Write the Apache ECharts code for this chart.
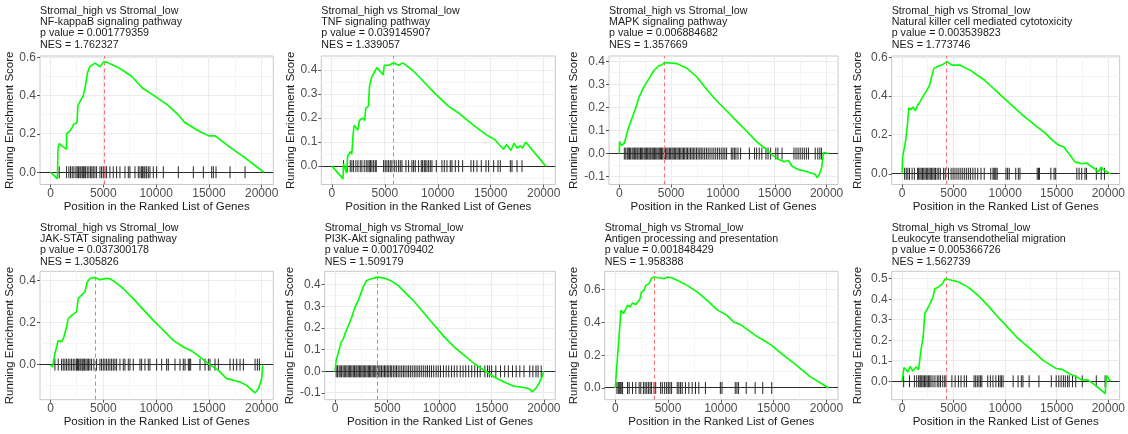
<!DOCTYPE html>
<html>
<head>
<meta charset="utf-8">
<script src="https://cdn.jsdelivr.net/npm/echarts@6/dist/echarts.min.js"></script>
<style>
  html, body { margin: 0; padding: 0; background: #ffffff; }
  #chart { width: 1128px; height: 434px; }
</style>
</head>
<body>
<div id="chart"></div>
<script>
// GSEA running enrichment score plots, Stromal_high vs Stromal_low
const comparison = 'Stromal_high vs Stromal_low';
const pathways = [
  'NF-kappaB signaling pathway',
  'TNF signaling pathway',
  'MAPK signaling pathway',
  'Natural killer cell mediated cytotoxicity',
  'JAK-STAT signaling pathway',
  'PI3K-Akt signaling pathway',
  'Antigen processing and presentation',
  'Leukocyte transendothelial migration'
];
const pValues = ['0.001779359', '0.039145907', '0.006884682', '0.003539823',
                 '0.037300178', '0.001709402', '0.001848429', '0.005366726'];
const nesValues = ['1.762327', '1.339057', '1.357669', '1.773746',
                   '1.305826', '1.509179', '1.958388', '1.562739'];

// rank position of the enrichment-score peak
const peakPositions = [5090, 5830, 4380, 4350, 4270, 4060, 3740, 4300];

const xTickLabels = [0, 5000, 10000, 15000, 20000];
const yTickLabels = [
  [0, 0.2, 0.4, 0.6],
  [0, 0.1, 0.2, 0.3, 0.4],
  [-0.1, 0, 0.1, 0.2, 0.3, 0.4],
  [0, 0.2, 0.4, 0.6],
  [0, 0.2, 0.4],
  [-0.1, 0, 0.1, 0.2, 0.3, 0.4],
  [0, 0.2, 0.4, 0.6],
  [0, 0.1, 0.2, 0.3, 0.4, 0.5]
];

// running enrichment score, [rank position, score]
const es1 = [[0,0],[650,-0.035],[700,0.12],[820,0.15],[1500,0.12],[1520,0.2],[1900,0.22],[2200,0.25],[2500,0.26],[2600,0.35],[2900,0.38],[3100,0.4],[3300,0.45],[3500,0.52],[3700,0.55],[4200,0.57],[4700,0.55],[5000,0.575],[5300,0.575],[6300,0.55],[6900,0.53],[7700,0.5],[8700,0.44],[9800,0.4],[11100,0.35],[12100,0.3],[12700,0.26],[14200,0.21],[15000,0.19],[15600,0.19],[17000,0.13],[18300,0.08],[18450,0.09],[20200,0]];
const es2 = [[0,0],[1050,-0.053],[1100,0.01],[1400,-0.03],[1480,0.04],[1750,0.06],[1880,0.05],[2000,0.13],[2100,0.17],[2450,0.15],[2600,0.19],[2900,0.2],[3100,0.19],[3200,0.24],[3450,0.25],[3550,0.33],[3750,0.37],[4250,0.41],[4850,0.38],[4950,0.42],[5400,0.42],[5800,0.43],[6300,0.42],[6700,0.43],[7600,0.4],[8700,0.35],[9800,0.3],[11000,0.25],[12000,0.22],[13400,0.17],[14600,0.13],[15400,0.11],[16200,0.07],[16500,0.09],[16900,0.065],[17200,0.095],[17500,0.075],[17800,0.085],[18000,0.075],[18300,0.1],[20200,0]];
const es3 = [[0,0],[20,0.052],[220,0.035],[480,0.045],[800,0.1],[950,0.12],[1270,0.16],[1590,0.2],[1900,0.245],[2380,0.29],[2860,0.325],[3330,0.36],[3800,0.38],[4130,0.385],[4380,0.395],[5560,0.39],[6510,0.37],[7460,0.333],[8400,0.28],[9360,0.23],[10320,0.187],[11270,0.143],[12220,0.1],[13170,0.055],[14130,0.019],[15080,-0.018],[15880,-0.035],[16300,-0.03],[16670,-0.055],[17300,-0.07],[17700,-0.073],[18900,-0.09],[19100,-0.105],[19300,-0.09],[19525,-0.06],[19700,0.005],[20200,0]];
const es4 = [[0,0],[60,0.086],[200,0.08],[346,0.17],[504,0.24],[660,0.34],[880,0.33],[1040,0.345],[1290,0.325],[1510,0.353],[1730,0.37],[2050,0.4],[2460,0.435],[2680,0.457],[2870,0.5],[3090,0.543],[3560,0.555],[3870,0.56],[4350,0.578],[4820,0.56],[5600,0.56],[6710,0.53],[7970,0.483],[9230,0.422],[10490,0.36],[11750,0.3],[13010,0.245],[13950,0.207],[14580,0.172],[15210,0.147],[15690,0.138],[16790,0.06],[17420,0.052],[17890,0.055],[18680,0.026],[19000,0.009],[19310,0.034],[19620,0.017],[20200,0]];
const es5 = [[0,0],[190,-0.011],[410,0.052],[570,0.06],[727,0.115],[1040,0.108],[1264,0.131],[1517,0.18],[1675,0.218],[1990,0.234],[2212,0.242],[2465,0.25],[2623,0.313],[2940,0.33],[3255,0.345],[3476,0.392],[3729,0.408],[4203,0.413],[4677,0.403],[5151,0.408],[5625,0.408],[6100,0.392],[6890,0.36],[7837,0.313],[8785,0.261],[9733,0.21],[10681,0.163],[11629,0.115],[12577,0.084],[13367,0.065],[14157,0.036],[14947,0.005],[15895,-0.027],[16685,-0.066],[17317,-0.074],[17950,-0.082],[18580,-0.098],[19370,-0.134],[19687,-0.114],[19850,-0.09],[20000,-0.066],[20100,-0.003]];
const es6 = [[0,0],[95,0.05],[250,0.052],[380,0.097],[570,0.135],[795,0.15],[950,0.174],[1270,0.212],[1590,0.25],[1905,0.297],[2220,0.328],[2700,0.39],[3015,0.42],[3490,0.428],[4130,0.435],[4760,0.43],[5400,0.417],[6030,0.397],[6670,0.366],[7620,0.32],[8570,0.266],[9525,0.212],[10480,0.158],[11430,0.112],[12380,0.074],[13335,0.035],[14290,0.005],[15240,-0.026],[16190,-0.049],[17145,-0.069],[18100,-0.075],[18570,-0.08],[18890,-0.095],[19210,-0.08],[19525,-0.057],[19845,-0.023],[20000,0]];
const es7 = [[0,0],[125,0.112],[280,0.112],[377,0.33],[534,0.474],[785,0.454],[1160,0.505],[1410,0.494],[1630,0.519],[1950,0.51],[2165,0.525],[2355,0.545],[2480,0.586],[2730,0.596],[2890,0.626],[3200,0.637],[3420,0.667],[3675,0.677],[3990,0.673],[4300,0.671],[4615,0.667],[4930,0.677],[5400,0.671],[5870,0.657],[6810,0.626],[7760,0.586],[8700,0.535],[9640,0.478],[10580,0.443],[11210,0.403],[11840,0.388],[12620,0.352],[13410,0.315],[14040,0.291],[14820,0.26],[15920,0.2],[17180,0.138],[18430,0.071],[20200,0]];
const es8 = [[0,0],[100,-0.008],[190,0.067],[570,0.045],[790,0.073],[1040,0.05],[1360,0.07],[1610,0.057],[1830,0.151],[2050,0.216],[2210,0.33],[2400,0.326],[2560,0.362],[2780,0.386],[3000,0.41],[3190,0.451],[3510,0.459],[3890,0.475],[4200,0.5],[4360,0.508],[4830,0.492],[5470,0.484],[6410,0.459],[7360,0.419],[8310,0.37],[9260,0.316],[10200,0.265],[11150,0.213],[12420,0.159],[13680,0.102],[14950,0.062],[15580,0.057],[16210,0.037],[16840,0.024],[17470,0.005],[17950,0.008],[18740,-0.019],[19690,-0.06],[19840,0.029],[20200,0]];

// rank positions of the gene-set members
const hits1 = [822,1517,1738,1896,2054,2212,2402,2528,2654,2781,2876,3002,3097,3192,3318,3476,3634,3792,3918,4045,4203,4361,4677,4835,4993,5151,5309,5625,5941,6257,6573,7047,7363,7521,7995,8311,8469,8627,8722,8848,8943,9101,9259,9417,9733,10049,10681,12103,13525,14473,15263,15421,15674,17001,18423];
const hits2 = [1103,1481,1733,1890,2048,2268,2457,2678,2835,3056,3245,3402,3528,3654,3780,3938,4095,4190,4883,5040,5198,5355,5513,5670,5891,6080,6300,6458,6615,6993,7245,7560,7718,7875,8190,8442,8568,8726,8820,8978,9135,9293,9450,9860,10395,10616,10868,11183,11340,11655,11970,12348,13136,13388,13703,14112,14553,14805,15278,15687,15908,16853,17010,17483,17955];
const hits3 = [480,620,760,860,980,1090,1230,1340,1470,1580,1700,1790,1910,2040,2150,2260,2390,2500,2610,2730,2850,2960,3050,3170,3280,3400,3510,3620,3740,3850,3960,4070,4190,4330,4460,4580,4700,4830,4950,5080,5190,5310,5430,5560,5680,5800,5930,6060,6190,6310,6450,6580,6720,6870,7010,7140,7290,7440,7600,7760,7900,8060,8230,8400,8570,8750,8940,9120,9300,9480,9650,9830,10010,10180,10350,10800,10950,11100,11250,11450,11700,12550,13050,13250,13500,13750,14150,14350,14600,15100,15300,15700,16850,17050,17250,17450,17650,17850,18050,18250,18900,19150,19350,19500];
const hits4 = [252,410,567,725,977,1197,1512,1607,1733,1859,1985,2111,2237,2363,2489,2615,2741,2867,2993,3119,3245,3402,3560,3717,4032,4190,4505,4757,4946,5135,5324,5513,5702,5891,6080,6269,6458,6647,6867,7088,7340,7655,7970,8600,8820,8915,9009,9104,9230,10080,10238,10395,11025,11277,11435,13104,13230,13325,14427,14742,14900,16947,17168,17420,17735,17892,18837,19310,19625];
const hits5 = [411,727,1043,1201,1359,1517,1675,1833,1991,2149,2307,2465,2560,2654,2781,2876,3002,3097,3223,3350,3476,3602,3729,3887,4108,4361,4677,4835,4993,5151,5309,5467,5625,5783,5941,6099,6257,6573,6889,7047,7363,7521,7837,8469,8627,8943,9259,9417,10049,10523,10997,11155,11787,12261,12577,12735,13051,13146,13272,14157,14631,14947,15105,15579,15895,17001,17317,17633,17949,18265,19371,19592,19782];
const hits6 = [100,230,380,490,620,760,880,1010,1130,1260,1390,1490,1610,1740,1860,1990,2090,2210,2340,2450,2570,2690,2800,2930,3060,3180,3290,3410,3540,3660,3790,3900,4040,4180,4300,4440,4590,4730,4860,5000,5140,5290,5420,5580,5740,5880,6040,6210,6380,6540,6700,6880,7040,7210,7390,7580,7750,7930,8110,8300,8490,8690,8860,9050,9240,9450,9680,9880,10100,10380,10640,10890,11160,11420,11680,11990,12260,12520,12800,13090,13380,13640,13900,14350,14600,14780,15000,15400,15850,16250,16600,17000,17350,17700,18100,18650,18950,19250,19450,19750];
const hits7 = [157,283,377,471,565,691,1162,1319,1633,1947,2261,2418,2669,2826,2983,3140,3297,3423,3674,3831,4302,4459,4679,4867,5024,5181,5338,5872,6029,6186,6343,6657,6971,7285,7599,7913,8541,9954,10111,11367,11524,11681,12403,13251,13973,14821];
const hits8 = [158,727,1201,1422,1612,1738,1833,1928,2054,2180,2307,2433,2560,2686,2812,3002,3192,3413,3571,3729,3950,4140,4266,4835,5151,5467,5720,6036,6257,6984,7142,7300,7458,7616,7742,8311,8564,8816,9101,9354,9512,9638,9796,10776,11250,11566,11724,12324,13272,14473,14947,15200,15421,15642,15832,16053,16211,16527,16843,17475,18834,19687];

const runningScores = [es1, es2, es3, es4, es5, es6, es7, es8];
const geneHits = [hits1, hits2, hits3, hits4, hits5, hits6, hits7, hits8];

// ---- layout (pixels) ----
const panelBoxes = [
  [40, 56, 233.3, 128.5], [321.3, 56, 234, 128.5], [609, 56, 229, 128.5], [891.7, 56, 233.3, 128.5],
  [40, 271.3, 233.3, 128.4], [324.7, 271.3, 230.6, 128.4], [604.7, 271.3, 233.3, 128.4], [891.7, 271.3, 232.6, 128.4]
];
const yLimits = [
  [-0.064, 0.607], [-0.0765, 0.4585], [-0.134, 0.423], [-0.0553, 0.6068],
  [-0.166, 0.4427], [-0.131, 0.462], [-0.0714, 0.712], [-0.0897, 0.536]
];
const yNameGaps = [24, 23, 29, 28, 24, 27, 25, 28];
const X_MIN = -1000, X_MAX = 21100;
const FONT = '"Liberation Sans", Arial, Helvetica, sans-serif';

function minorValues(major, lo, hi) {
  const step = major[1] - major[0];
  const out = [];
  for (let v = major[0] - step / 2; v < hi; v += step) {
    if (v > lo) out.push(+v.toFixed(6));
  }
  return out.filter(v => major.every(m => Math.abs(m - v) > 1e-9));
}

const crisp = v => Math.round(v - 0.5) + 0.5;

const option = {
  animation: false,
  backgroundColor: '#ffffff',
  title: [], grid: [], xAxis: [], yAxis: [], series: []
};

pathways.forEach((name, i) => {
  const [left, top, width, height] = panelBoxes[i];
  const [yMin, yMax] = yLimits[i];
  const yMajor = yTickLabels[i];
  const yMinor = minorValues(yMajor, yMin, yMax);
  const xMinor = minorValues(xTickLabels, X_MIN, X_MAX);

  option.title.push({
    text: [comparison, name, 'p value = ' + pValues[i], 'NES = ' + nesValues[i]].join('\n'),
    left: left, top: i < 4 ? 5.4 : 222.4, padding: 0,
    textStyle: { fontFamily: FONT, fontSize: 10.7, lineHeight: 11.2, fontWeight: 'normal', color: '#1a1a1a' }
  });

  option.grid.push({
    left: left, top: top, width: width, height: height,
    show: true, backgroundColor: '#ffffff', borderColor: '#c8c8c8', borderWidth: 1
  });

  option.xAxis.push({
    gridIndex: i, type: 'value', min: X_MIN, max: X_MAX,
    name: 'Position in the Ranked List of Genes', nameLocation: 'middle', nameGap: 15,
    nameTextStyle: { fontFamily: FONT, fontSize: 11.5, color: '#1a1a1a' },
    axisLine: { show: false, onZero: false },
    axisTick: { show: true, customValues: xTickLabels, length: 3, lineStyle: { color: '#555555' } },
    axisLabel: { customValues: xTickLabels, margin: 3, fontFamily: FONT, fontSize: 12, color: '#4d4d4d',
                 formatter: v => String(v) },
    splitLine: { show: false }
  });

  option.yAxis.push({
    gridIndex: i, type: 'value', min: yMin, max: yMax,
    name: 'Running Enrichment Score', nameLocation: 'middle', nameGap: yNameGaps[i],
    nameTextStyle: { fontFamily: FONT, fontSize: 11.5, color: '#1a1a1a' },
    axisLine: { show: false, onZero: false },
    axisTick: { show: true, customValues: yMajor, length: 3, lineStyle: { color: '#555555' } },
    axisLabel: { customValues: yMajor, margin: 4, fontFamily: FONT, fontSize: 12, color: '#4d4d4d',
                 formatter: v => (Math.abs(v) < 1e-9 ? 0 : v).toFixed(1) },
    splitLine: { show: false }
  });

  // panel grid lines
  option.series.push({
    type: 'custom', xAxisIndex: i, yAxisIndex: i, silent: true, z: 1, clip: true,
    data: [[0, 0]],
    renderItem: (params, api) => {
      const children = [];
      const addV = (v, major) => {
        const a = api.coord([v, yMin]), b = api.coord([v, yMax]);
        const x = crisp(a[0]);
        children.push({ type: 'line', shape: { x1: x, y1: a[1], x2: x, y2: b[1] },
          style: { stroke: major ? '#ebebeb' : '#f5f5f5', lineWidth: 1 } });
      };
      const addH = (v, major) => {
        const a = api.coord([X_MIN, v]), b = api.coord([X_MAX, v]);
        const y = crisp(a[1]);
        children.push({ type: 'line', shape: { x1: a[0], y1: y, x2: b[0], y2: y },
          style: { stroke: major ? '#ebebeb' : '#f5f5f5', lineWidth: 1 } });
      };
      xMinor.forEach(v => addV(v, false));
      yMinor.forEach(v => addH(v, false));
      xTickLabels.forEach(v => addV(v, true));
      yMajor.forEach(v => addH(v, true));
      return { type: 'group', children };
    }
  });

  // gene-set member ticks along the zero line
  option.series.push({
    type: 'custom', xAxisIndex: i, yAxisIndex: i, silent: true, z: 2, clip: true,
    data: geneHits[i].map(h => [h, 0]),
    renderItem: (params, api) => {
      const c = api.coord([api.value(0), api.value(1)]);
      return { type: 'line', shape: { x1: c[0], y1: c[1] - 6, x2: c[0], y2: c[1] + 6 },
        style: { stroke: '#000000', lineWidth: 1, opacity: 0.85 } };
    }
  });

  // zero line and dashed marker at the peak position
  option.series.push({
    type: 'custom', xAxisIndex: i, yAxisIndex: i, silent: true, z: 3, clip: true,
    data: [[peakPositions[i], 0]],
    renderItem: (params, api) => {
      const px = api.value(0);
      const z0 = api.coord([X_MIN, 0]), z1 = api.coord([X_MAX, 0]);
      const p0 = api.coord([px, yMin]), p1 = api.coord([px, yMax]);
      const zy = crisp(z0[1]), dx = crisp(p0[0]);
      return { type: 'group', children: [
        { type: 'line', shape: { x1: z0[0], y1: zy, x2: z1[0], y2: zy },
          style: { stroke: '#2b2b2b', lineWidth: 1 } },
        { type: 'line', shape: { x1: dx, y1: p0[1], x2: dx, y2: p1[1] },
          style: { stroke: '#ff7070', lineWidth: 1, lineDash: [4, 3] } }
      ] };
    }
  });

  // running enrichment score curve
  option.series.push({
    type: 'line', xAxisIndex: i, yAxisIndex: i, z: 4,
    data: runningScores[i], showSymbol: false, symbol: 'none', silent: true,
    lineStyle: { color: '#00ff00', width: 1.6 }
  });
});

const chart = echarts.init(document.getElementById('chart'), null, { renderer: 'canvas' });
chart.setOption(option);
</script>
</body>
</html>
